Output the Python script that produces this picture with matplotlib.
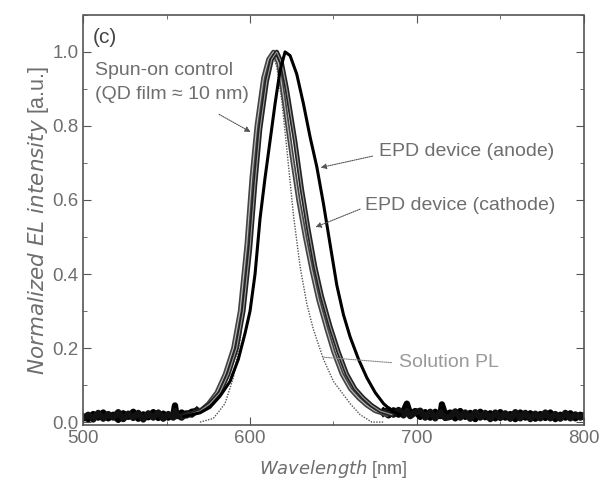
import matplotlib.pyplot as plt
from matplotlib.ticker import MultipleLocator

plt.rcParams["font.family"] = ["Liberation Sans", "DejaVu Sans"]

# Solution PL (thin dotted)
pl_nm = [570, 578, 585, 590, 594, 598, 602, 606, 610, 613, 616, 619, 622, 626,
         630, 634, 638, 644, 650, 655, 660, 666, 673, 680]
pl_int = [0.0, 0.01, 0.05, 0.12, 0.22, 0.38, 0.58, 0.78, 0.94, 1.0, 0.96, 0.87,
          0.74, 0.56, 0.42, 0.32, 0.25, 0.17, 0.11, 0.08, 0.05, 0.02, 0.0, 0.0]

# Spun-on control
ctrl_nm = [560, 570, 575, 580, 585, 590, 594, 598, 601, 604, 608, 611, 614, 617,
           620, 625, 629, 633, 637, 641, 646, 650, 655, 660, 665, 670, 675, 682]
ctrl_int = [0.015, 0.03, 0.05, 0.08, 0.13, 0.2, 0.3, 0.48, 0.66, 0.8, 0.93, 0.98,
            1.0, 0.97, 0.88, 0.72, 0.6, 0.5, 0.41, 0.33, 0.25, 0.19, 0.13, 0.09,
            0.065, 0.045, 0.03, 0.02]

# EPD device (cathode)
cath_nm = [560, 570, 576, 582, 587, 592, 596, 600, 603, 606, 610, 613, 616, 619,
           622, 627, 631, 635, 639, 643, 648, 653, 658, 663, 668, 673, 678, 685]
cath_int = [0.015, 0.03, 0.05, 0.08, 0.13, 0.2, 0.3, 0.47, 0.64, 0.79, 0.92, 0.98,
            1.0, 0.97, 0.9, 0.76, 0.63, 0.52, 0.42, 0.34, 0.26, 0.19, 0.13, 0.09,
            0.065, 0.045, 0.03, 0.02]

# EPD device (anode)
anode_nm = [560, 570, 576, 582, 588, 593, 597, 600, 603, 606, 609, 612, 615, 618,
            621, 624, 628, 632, 636, 640, 644, 648, 652, 656, 660, 665, 670, 675,
            680, 685, 690]
anode_int = [0.015, 0.025, 0.04, 0.07, 0.11, 0.17, 0.24, 0.30, 0.40, 0.55, 0.66,
             0.76, 0.86, 0.95, 1.0, 0.99, 0.94, 0.86, 0.77, 0.69, 0.59, 0.48, 0.37,
             0.29, 0.23, 0.17, 0.12, 0.08, 0.05, 0.03, 0.02]

# noisy EL floor (two passes, one per overlapping trace)
floor_left_nm = [500, 503, 506, 509, 512, 515, 518, 521, 524, 527, 530, 533, 536,
                 539, 542, 545, 548, 551, 554, 555, 556, 559, 562, 565, 568]
floor_left_a = [0.015, 0.008, 0.022, 0.012, 0.026, 0.01, 0.02, 0.006, 0.024,
                0.014, 0.028, 0.009, 0.021, 0.013, 0.027, 0.011, 0.023, 0.012,
                0.02, 0.045, 0.016, 0.026, 0.018, 0.028, 0.03]
floor_left_b = [0.01, 0.02, 0.007, 0.025, 0.009, 0.022, 0.012, 0.027, 0.008,
                0.023, 0.011, 0.025, 0.007, 0.024, 0.012, 0.026, 0.009, 0.022,
                0.012, 0.03, 0.02, 0.012, 0.024, 0.02, 0.032]
floor_right_nm = [680, 683, 686, 689, 692, 694, 696, 699, 702, 705, 708, 711, 714,
                  715, 717, 720, 723, 726, 729, 732, 735, 738, 741, 744, 747, 750,
                  753, 756, 759, 762, 765, 768, 771, 774, 777, 780, 783, 786, 789,
                  792, 795, 798, 800]
floor_right_a = [0.03, 0.018, 0.032, 0.02, 0.03, 0.05, 0.022, 0.03, 0.014, 0.027,
                 0.012, 0.028, 0.016, 0.048, 0.02, 0.026, 0.01, 0.03, 0.014,
                 0.025, 0.008, 0.028, 0.013, 0.024, 0.01, 0.027, 0.012, 0.022,
                 0.008, 0.026, 0.012, 0.024, 0.009, 0.022, 0.011, 0.026, 0.008,
                 0.02, 0.012, 0.024, 0.01, 0.02, 0.014]
floor_right_b = [0.024, 0.034, 0.02, 0.033, 0.018, 0.03, 0.016, 0.026, 0.031, 0.012,
                 0.028, 0.01, 0.027, 0.02, 0.011, 0.014, 0.029, 0.012, 0.026,
                 0.009, 0.027, 0.012, 0.025, 0.008, 0.026, 0.011, 0.024, 0.009,
                 0.027, 0.01, 0.025, 0.008, 0.023, 0.01, 0.026, 0.01, 0.022,
                 0.009, 0.025, 0.01, 0.021, 0.012, 0.018]

TEXT_GRAY = "#6e6e6e"
LINE_GRAY = "#555555"

fig = plt.figure(figsize=(6.03, 4.96), dpi=100)
ax = fig.add_axes([0.138, 0.143, 0.83, 0.827])

for ya, yb, xs in [(floor_left_a, floor_left_b, floor_left_nm),
                   (floor_right_a, floor_right_b, floor_right_nm)]:
    ax.plot(xs, ya, color="black", linewidth=4.5)
    ax.plot(xs, yb, color="#111111", linewidth=4.5)

ax.plot(pl_nm, pl_int, color="#555555", linewidth=1.0, linestyle=(0, (1, 1)))
ax.plot(ctrl_nm, ctrl_int, color="#444444", linewidth=3.2)
ax.plot(ctrl_nm, ctrl_int, color="#bbbbbb", linewidth=0.8)
ax.plot(cath_nm, cath_int, color="#222222", linewidth=3.2)
ax.plot(cath_nm, cath_int, color="#999999", linewidth=0.8)
ax.plot(anode_nm, anode_int, color="black", linewidth=2.2)

ax.set_xlim(500, 800)
ax.set_ylim(-0.008, 1.1)
ax.xaxis.set_major_locator(MultipleLocator(100))
ax.xaxis.set_minor_locator(MultipleLocator(50))
ax.yaxis.set_major_locator(MultipleLocator(0.2))
ax.yaxis.set_minor_locator(MultipleLocator(0.1))
ax.yaxis.set_major_formatter(plt.FuncFormatter(lambda v, p: f"{v:.1f}"))
ax.tick_params(which="both", direction="in", top=True, right=True,
               colors=LINE_GRAY, labelcolor=TEXT_GRAY, labelsize=13.5)
ax.tick_params(which="major", length=6)
ax.tick_params(which="minor", length=3)
for s in ax.spines.values():
    s.set_color(LINE_GRAY)
    s.set_linestyle((0, (1, 1)))
    s.set_linewidth(1.2)

ax.set_xlabel(r"$\it{Wavelength}$ [nm]", fontsize=13, color=TEXT_GRAY, labelpad=8)
ax.set_ylabel(r"$\it{Normalized\ EL\ intensity}$ [a.u.]", fontsize=15.5,
              color=TEXT_GRAY, labelpad=1)

ax.text(505.5, 1.04, "(c)", fontsize=15, color="#444444", va="center")
ax.text(507, 0.949, "Spun-on control", fontsize=14, color=TEXT_GRAY, va="center")
ax.text(507, 0.886, "(QD film \u2248 10 nm)", fontsize=14, color=TEXT_GRAY, va="center")
ax.annotate("", xy=(601.8, 0.78), xytext=(580, 0.835),
            arrowprops=dict(arrowstyle="-|>", color=LINE_GRAY, lw=0.8,
                            linestyle=(0, (1, 1)), mutation_scale=8))

ax.text(677, 0.732, "EPD device (anode)", fontsize=14, color=TEXT_GRAY, va="center")
ax.annotate("", xy=(640.7, 0.686), xytext=(675, 0.72),
            arrowprops=dict(arrowstyle="-|>", color=LINE_GRAY, lw=0.8,
                            linestyle=(0, (1, 1)), mutation_scale=8))

ax.text(669, 0.586, "EPD device (cathode)", fontsize=14, color=TEXT_GRAY, va="center")
ax.annotate("", xy=(637.7, 0.524), xytext=(667.5, 0.578),
            arrowprops=dict(arrowstyle="-|>", color=LINE_GRAY, lw=0.8,
                            linestyle=(0, (1, 1)), mutation_scale=8))

ax.text(689, 0.162, "Solution PL", fontsize=14, color="#999999", va="center")
ax.annotate("", xy=(642, 0.176), xytext=(686.5, 0.16),
            arrowprops=dict(arrowstyle="-", color="#888888", lw=0.8,
                            linestyle=(0, (1, 1))))

fig.savefig("out.png", dpi=100)
